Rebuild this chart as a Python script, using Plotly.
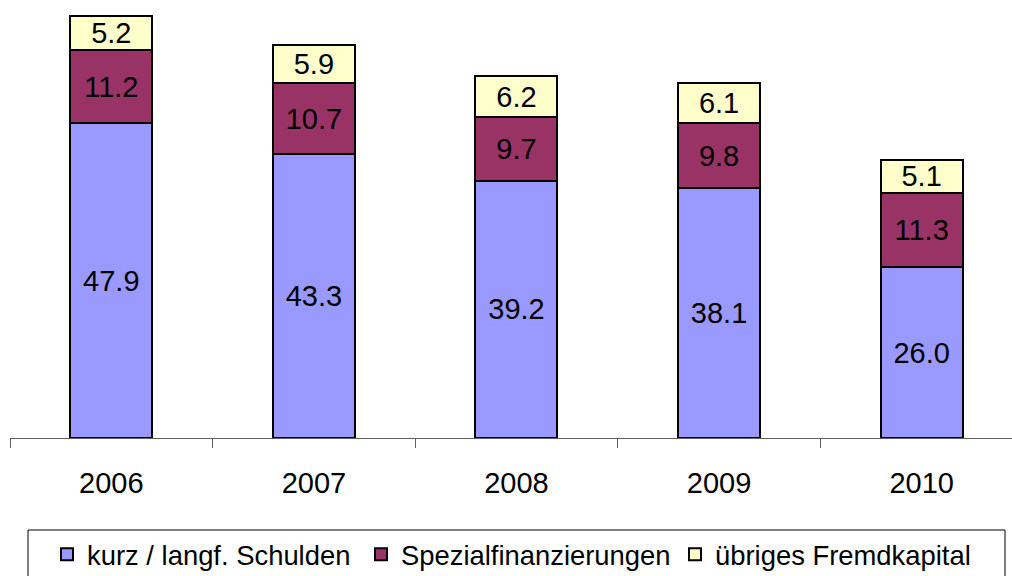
import plotly.graph_objects as go

years = ["2006", "2007", "2008", "2009", "2010"]
schulden = [47.9, 43.3, 39.2, 38.1, 26.0]
spezial = [11.2, 10.7, 9.7, 9.8, 11.3]
uebrige = [5.2, 5.9, 6.2, 6.1, 5.1]

series = [
    ("kurz / langf. Schulden", schulden, "#9999FF"),
    ("Spezialfinanzierungen", spezial, "#993366"),
    ("übriges Fremdkapital", uebrige, "#FFFFCC"),
]

FONT = "Liberation Sans, Arial, sans-serif"

fig = go.Figure()
for name, vals, col in series:
    fig.add_trace(go.Bar(
        name=name, x=years, y=vals,
        marker=dict(color=col, line=dict(color="black", width=2)),
        texttemplate="%{y:.1f}", textposition="inside", insidetextanchor="middle",
        textangle=0,
        textfont=dict(size=29, color="black", family=FONT),
        width=0.405,
    ))

# plot area: x 10..1012 (1002 px), y 0..438 (438 px)
fig.add_shape(type="rect", xref="paper", yref="paper",
              x0=(28 - 10) / 1002, x1=(1005 - 10) / 1002,
              y0=(438 - 580) / 438, y1=(438 - 530) / 438,
              line=dict(color="black", width=1), fillcolor="rgba(0,0,0,0)")

fig.update_layout(
    barmode="stack",
    width=1012, height=576,
    margin=dict(l=10, r=0, t=0, b=138, autoexpand=False),
    plot_bgcolor="white", paper_bgcolor="white",
    font=dict(family=FONT, color="black"),
    uniformtext=dict(minsize=29, mode="show"),
    showlegend=True,
    legend=dict(
        orientation="h", x=(47 - 10) / 1002, xanchor="left",
        y=(438 - 530) / 438, yanchor="top",
        borderwidth=0, bgcolor="rgba(0,0,0,0)",
        font=dict(size=27.4, family=FONT, color="black"),
        entrywidth=269, entrywidthmode="pixels",
        itemwidth=30, traceorder="normal",
    ),
)
fig.update_xaxes(
    range=[-0.5, 4.446], showline=True, linecolor="#606060", linewidth=1,
    ticks="outside", tickson="boundaries", ticklen=9, tickcolor="#606060",
    tickfont=dict(size=29, color="black", family=FONT), ticklabelstandoff=19,
    showgrid=False,
)
fig.update_yaxes(range=[0, 66.7], visible=False, showgrid=False)

fig.write_html("out.html", config={"displayModeBar": False},
               post_script="document.body.style.margin='0';")
